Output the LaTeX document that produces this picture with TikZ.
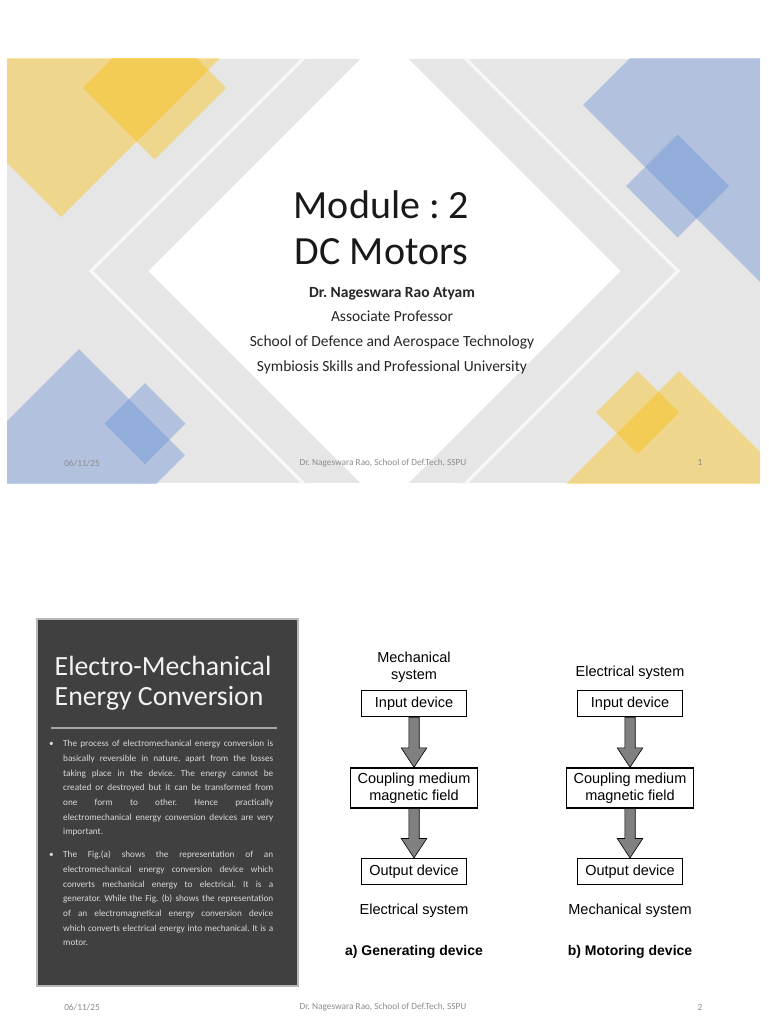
\documentclass[tikz,border=0pt]{standalone}
\usepackage{fontspec}
\setmainfont{Carlito}
\newfontfamily\figfont{Liberation Sans}
\usetikzlibrary{
positioning,
calc
}
\definecolor{slidegray}{HTML}{E6E6E6}
\definecolor{chevronwhite}{HTML}{F7F7F7}
\definecolor{tilegold}{HTML}{FCBE05}
\definecolor{tileblue}{HTML}{668ED4}
\definecolor{paneldark}{HTML}{404040}
\definecolor{panelrule}{HTML}{A6A6A6}
\definecolor{paneltext}{HTML}{D9D9D9}
\definecolor{footgray}{HTML}{8C8C8C}
\definecolor{arrowgray}{HTML}{808080}

% a square turned by 45 degrees: style, centre x, centre y, half diagonal
\newcommand{\tile}[4]{\fill[#1] (#2-#4,#3) -- (#2,#3-#4) -- (#2+#4,#3) -- (#2,#3+#4) -- cycle;}

% fat grey arrow from one box to the next
\newcommand{\flowarrow}[2]{%
\path[blockarrow] let \p1=(#1.south), \p2=(#2.north) in
(\x1-5.2pt,\y1) -- (\x1-5.2pt,\y2+19.5pt) -- (\x1-12.8pt,\y2+19.5pt)
-- (\x1,\y2) -- (\x1+12.8pt,\y2+19.5pt) -- (\x1+5.2pt,\y2+19.5pt)
-- (\x1+5.2pt,\y1) -- cycle;}

\begin{document}
\frenchspacing
\begin{tikzpicture}[
x=1pt,
y=-1pt,
chevron/.style={
draw=chevronwhite,
line width=3.5pt
},
goldtile/.style={fill=tilegold, opacity=0.4},
bluetile/.style={fill=tileblue, opacity=0.4},
footer/.style={
inner sep=0pt,
text=footgray,
font=\fontsize{9.3}{11}\selectfont
},
devbox/.style={
rectangle,
draw=black,
line width=1.3pt,
fill=white,
minimum width=105pt,
minimum height=26pt,
inner sep=0pt,
align=center,
font=\figfont\fontsize{14.5}{17}\selectfont
},
coupbox/.style={
devbox,
minimum width=126.7pt,
minimum height=40pt
},
syslabel/.style={
inner sep=0pt,
align=center,
font=\figfont\fontsize{14.5}{17.5}\selectfont
},
caption/.style={
inner sep=0pt,
font=\figfont\bfseries\fontsize{14}{17}\selectfont
},
blockarrow/.style={draw=black, fill=arrowgray, line width=0.6pt},
paratext/.style={
anchor=north west,
inner sep=0pt,
text width=210pt,
align=justify,
text=paneltext,
font=\fontsize{9.2}{14.7}\selectfont
},
bulletmark/.style={
anchor=north west,
inner sep=0pt,
text=paneltext,
font=\fontsize{9.2}{14.7}\selectfont
}
]

\useasboundingbox (0,0) rectangle (768,1024);
\fill[white] (0,0) rectangle (768,1024);

% ---- slide 1 ----
\fill[slidegray] (7,59) rectangle (760,483);
\begin{scope}
\clip (7,59) rectangle (760,483);
\draw[chevron] (91,271) -- (384.5,-22.5) -- (678,271) -- (384.5,564.5) -- cycle;
\fill[white] (148.5,271) -- (384.5,35) -- (620.5,271) -- (384.5,507) -- cycle;
\tile{goldtile}{61}{17}{200}
\tile{goldtile}{154.5}{88}{71.5}
\tile{bluetile}{833}{105}{250}
\tile{bluetile}{677.5}{186}{51.5}
\tile{bluetile}{79}{455}{106}
\tile{bluetile}{145}{423.5}{40.5}
\tile{goldtile}{679}{571}{200}
\tile{goldtile}{637.5}{412.5}{41.5}
\end{scope}

\node[align=center, inner sep=0pt, text=black!90,
font=\fontsize{40}{45.6}\selectfont] (title) at (381.5,228)
{Module : 2\\DC Motors};

\node[align=center, inner sep=0pt, text=black!85,
font=\fontsize{15.5}{24.8}\selectfont] (speaker) at (392,330.5)
{\textbf{Dr. Nageswara Rao Atyam}\\Associate Professor\\
School of Defence and Aerospace Technology\\
Symbiosis Skills and Professional University};

\node[footer] (date1) at (82,463) {06/11/25};
\node[footer] (foot1) at (383,463) {Dr. Nageswara Rao, School of Def.Tech, SSPU};
\node[footer] (page1) at (700,463) {1};

% ---- slide 2 ----
\draw[fill=paneldark, draw=panelrule!80, line width=2pt] (37,619) rectangle (298,986);

\node[anchor=west, align=left, inner sep=0pt, text=white!95!black,
font=\fontsize{27.8}{30}\selectfont] (paneltitle) at (54.5,683)
{Electro-Mechanical\\Energy Conversion};
\draw[panelrule, line width=2pt] (51,728) -- (277,728);

\node[bulletmark] (dot1) at (49,736.2) {\strut•};
\node[paratext] (para1) at (63,736.2)
{\strut The process of electromechanical energy conversion is\linebreak
basically reversible in nature, apart from the losses\linebreak
taking place in the device. The energy cannot be\linebreak
created or destroyed but it can be transformed from\linebreak
one form to other. Hence practically\linebreak
electromechanical energy conversion devices are very\linebreak
important.};

\node[bulletmark] (dot2) at (49,847.2) {\strut•};
\node[paratext] (para2) at (63,847.2)
{\strut The Fig.(a) shows the representation of an\linebreak
electromechanical energy conversion device which\linebreak
converts mechanical energy to electrical. It is a\linebreak
generator. While the Fig. (b) shows the representation\linebreak
of an electromagnetical energy conversion device\linebreak
which converts electrical energy into mechanical. It is a\linebreak
motor.};

% generating device
\node[devbox] (gin) at (414,703.7) {Input device};
\node[coupbox, below=50pt of gin] (gcoup) {Coupling medium\\magnetic field};
\node[devbox, below=49.3pt of gcoup] (gout) {Output device};
\node[syslabel, above=7pt of gin] (gmech) {Mechanical\\system};
\node[syslabel, below=19pt of gout] (gelec) {Electrical system};
\node[caption, below=27pt of gelec] (gcap) {a) Generating device};
\flowarrow{gin}{gcoup}
\flowarrow{gcoup}{gout}

% motoring device
\node[devbox] (min) at (630,703.7) {Input device};
\node[coupbox, below=50pt of min] (mcoup) {Coupling medium\\magnetic field};
\node[devbox, below=49.3pt of mcoup] (mout) {Output device};
\node[syslabel, above=10pt of min] (melec) {Electrical system};
\node[syslabel, below=19pt of mout] (mmech) {Mechanical system};
\node[caption, below=27pt of mmech] (mcap) {b) Motoring device};
\flowarrow{min}{mcoup}
\flowarrow{mcoup}{mout}

\node[footer] (date2) at (82,1007) {06/11/25};
\node[footer] (foot2) at (383,1007) {Dr. Nageswara Rao, School of Def.Tech, SSPU};
\node[footer] (page2) at (700,1007) {2};

\end{tikzpicture}
\end{document}
